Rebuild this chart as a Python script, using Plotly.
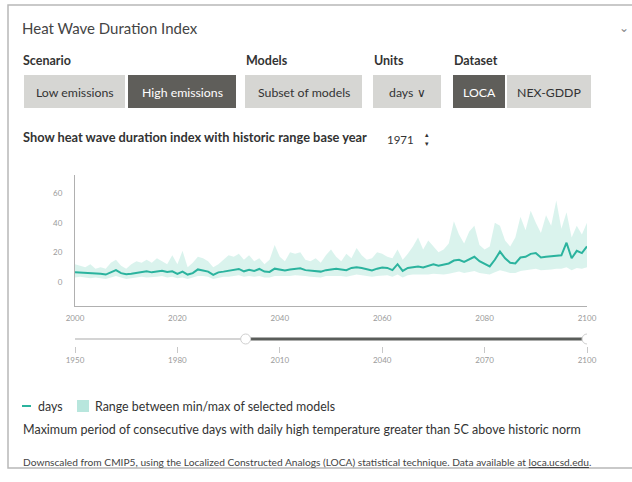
import plotly.graph_objects as go

W, H = 632, 482
FONT = "Lato"

# ---------------- data ----------------
years = list(range(2000, 2101))
days_median = [
    6.5, 6.3, 6.0, 6.2, 5.8, 5.5, 5.0, 6.5, 8.0, 6.0,
    5.2, 5.5, 6.0, 7.0, 7.2, 6.5, 6.8, 7.5, 6.8, 7.2,
    5.5, 7.0, 5.0, 6.0, 8.5, 8.0, 7.0, 4.8, 6.5, 7.0,
    7.5, 8.5, 8.8, 7.2, 8.2, 7.5, 8.8, 7.0, 6.8, 9.0,
    8.5, 7.8, 8.5, 9.0, 9.3, 8.0, 7.8, 7.5, 7.0, 8.0,
    8.5, 9.0, 8.5, 8.0, 9.5, 10.0, 9.5, 8.5, 7.8, 9.0,
    9.8, 9.5, 8.0, 12.0, 7.5, 9.5, 10.0, 10.5, 9.8, 11.0,
    12.0, 11.0, 11.5, 12.5, 14.5, 15.0, 13.5, 15.0, 17.0, 14.0,
    12.0, 10.5, 15.0, 20.5, 16.0, 13.0, 12.5, 16.5, 17.0, 19.0,
    19.5, 16.5, 17.0, 17.5, 18.0, 18.0, 26.5, 16.0, 21.0, 19.5,
    24.0,
]
range_max = [
    12, 11, 10, 12, 9, 10, 9, 13, 15, 11,
    9, 12, 14, 13, 15, 13, 16, 14, 12, 18,
    12, 21, 10, 13, 17, 16, 14, 10, 12, 15,
    18, 17, 19, 15, 18, 14, 16, 12, 15, 25,
    17, 14, 20, 19, 20, 15, 14, 16, 13, 18,
    22, 17, 14, 19, 16, 23, 18, 15, 16, 20,
    19, 17, 16, 22, 15, 19, 24, 30, 22, 28,
    24, 20, 22, 26, 41, 32, 26, 34, 38, 25,
    22, 24, 40, 38, 28, 24, 30, 44, 35, 48,
    40, 33, 45, 38, 55, 36, 47, 30, 38, 32,
    40,
]
range_min = [
    3, 3.5, 3, 2.5, 3, 2.5, 2, 3, 4, 3,
    2, 2.5, 3, 3.5, 3, 3, 3.5, 4, 3, 3.5,
    2.5, 3, 2, 3, 4, 4, 3.5, 2, 3, 3.5,
    3.5, 4, 4.5, 3.5, 4, 3.5, 4, 3, 3, 4,
    4, 3.5, 4, 4.5, 4.5, 4, 3.5, 3.5, 3, 4,
    4, 4.5, 4, 3.5, 4.5, 5, 4.5, 4, 3.5, 4,
    4.5, 4.5, 3.5, 5, 3, 4.5, 5, 5, 4.5, 5,
    5.5, 5, 5, 5.5, 6.5, 7, 6, 7, 7.5, 6,
    5.5, 5, 6.5, 8, 7, 6, 6, 7.5, 8, 8.5,
    9, 8, 8, 8.5, 9, 9, 10, 8, 9.5, 9,
    10,
]
y_ticks = [0, 20, 40, 60]
x_ticks = [2000, 2020, 2040, 2060, 2080, 2100]
slider_range = [1950, 2100]
slider_selected = [2000, 2100]
slider_ticks = [1950, 1980, 2010, 2040, 2070, 2100]

scenario_opts = ["Low emissions", "High emissions"]
models_opts = ["Subset of models"]
units_opts = ["days ∨"]
dataset_opts = ["LOCA", "NEX-GDDP"]

LINE = "#2bb39e"
BAND = "rgba(140,218,200,0.32)"


def px(x):
    return x / W


def py(y):
    return 1 - y / H


fig = go.Figure()

# band
fig.add_trace(go.Scatter(x=years, y=range_min, mode="lines", line=dict(width=0),
                         hoverinfo="skip", showlegend=False))
fig.add_trace(go.Scatter(x=years, y=range_max, mode="lines", line=dict(width=0),
                         fill="tonexty", fillcolor=BAND, hoverinfo="skip", showlegend=False))
fig.add_trace(go.Scatter(x=years, y=days_median, mode="lines",
                         line=dict(color=LINE, width=2), showlegend=False))

# slider
fig.add_trace(go.Scatter(x=slider_range, y=[0, 0], xaxis="x2", yaxis="y2", mode="lines",
                         line=dict(color="#d4d4d4", width=2), showlegend=False, hoverinfo="skip"))
fig.add_trace(go.Scatter(x=slider_selected, y=[0, 0], xaxis="x2", yaxis="y2", mode="lines",
                         line=dict(color="#5a5d5a", width=3), showlegend=False, hoverinfo="skip"))
fig.add_trace(go.Scatter(x=slider_selected, y=[0, 0], xaxis="x2", yaxis="y2", mode="markers",
                         marker=dict(symbol="circle", size=10, color="white",
                                     line=dict(color="#cfcfcf", width=1)),
                         showlegend=False, hoverinfo="skip"))

tickfont = dict(family=FONT, size=8, color="#9a9a9a")
fig.update_layout(
    width=W, height=H, margin=dict(l=0, r=0, t=0, b=0, pad=0, autoexpand=False),
    paper_bgcolor="white", plot_bgcolor="white", showlegend=False,
    xaxis=dict(domain=[px(75), px(587)], range=[2000, 2100], tickvals=x_ticks,
               showgrid=False, zeroline=False, showline=True, linecolor="#b0b0b0",
               linewidth=1, ticks="", tickfont=tickfont, ticklabelstandoff=4,
               fixedrange=True, automargin=False),
    yaxis=dict(domain=[py(306), py(175)], range=[-16.2, 72.2], tickvals=y_ticks,
               showgrid=False, zeroline=False, showline=True, linecolor="#b0b0b0",
               linewidth=1, ticks="", tickfont=tickfont, ticklabelstandoff=10,
               fixedrange=True, automargin=False),
    xaxis2=dict(domain=[px(75), px(587)], range=[1950, 2100], anchor="y2",
                tickvals=slider_ticks, showgrid=False, zeroline=False, showline=False,
                ticks="outside", ticklen=6, tickcolor="#c8c8c8", tickwidth=1,
                tickfont=tickfont, fixedrange=True, automargin=False),
    yaxis2=dict(domain=[py(346), py(332)], range=[-1, 1], visible=False, fixedrange=True,
                automargin=False),
)

shapes = []
ann = []


def text(x, y, s, size=12, color="#333", bold=False, anchor="left"):
    ann.append(dict(x=px(x), y=py(y), xref="paper", yref="paper", text=(f"<b>{s}</b>" if bold else s),
                    showarrow=False, xanchor=anchor, yanchor="middle",
                    font=dict(family=FONT, size=size, color=color)))


# card border
shapes.append(dict(type="rect", xref="paper", yref="paper", x0=px(8), x1=px(660), y0=py(468), y1=py(5),
                   line=dict(color="#b8b8b8", width=1.5), fillcolor="rgba(0,0,0,0)"))

text(20, 28, "Heat Wave Duration Index", size=15, color="#444")
text(617, 27, "⌄", size=12, color="#888")

text(21, 60, "Scenario", size=12.5, bold=True)
text(244, 60, "Models", size=12.5, bold=True)
text(372, 60, "Units", size=12.5, bold=True)
text(452, 60, "Dataset", size=12.5, bold=True)

LIGHT, DARK = "#d6d6d3", "#5f5e5a"
buttons = [
    (24, 125, scenario_opts[0], False),
    (128, 236, scenario_opts[1], True),
    (245, 362, models_opts[0], False),
    (373, 441, units_opts[0], False),
    (453, 505, dataset_opts[0], True),
    (507, 591, dataset_opts[1], False),
]
for x0, x1, label, active in buttons:
    shapes.append(dict(type="rect", xref="paper", yref="paper", x0=px(x0), x1=px(x1),
                       y0=py(108), y1=py(75), line=dict(width=0),
                       fillcolor=DARK if active else LIGHT))
    text((x0 + x1) / 2, 92, label, size=12.3, color="white" if active else "#333", anchor="center")

text(21, 137, "Show heat wave duration index with historic range base year", size=12.8, bold=True)
text(385, 139, "1971", size=11.5, color="#333")
text(427, 138, "▴<br>▾", size=7, color="#333", anchor="center")

# legend
shapes.append(dict(type="line", xref="paper", yref="paper", x0=px(22), x1=px(31), y0=py(406), y1=py(406),
                   line=dict(color=LINE, width=2)))
text(36, 406, "days", size=12.4, color="#333")
shapes.append(dict(type="rect", xref="paper", yref="paper", x0=px(77), x1=px(89), y0=py(412), y1=py(400),
                   line=dict(width=0), fillcolor="#b8e6dd"))
text(93, 406, "Range between min/max of selected models", size=12.4, color="#333")

text(21, 429, "Maximum period of consecutive days with daily high temperature greater than 5C above historic norm",
     size=12.5, color="#333")
text(21, 462, "Downscaled from CMIP5, using the Localized Constructed Analogs (LOCA) statistical technique. "
              "Data available at <u>loca.ucsd.edu</u>.", size=10.2, color="#444")

fig.update_layout(shapes=shapes, annotations=ann)
fig.write_html("out.html")
